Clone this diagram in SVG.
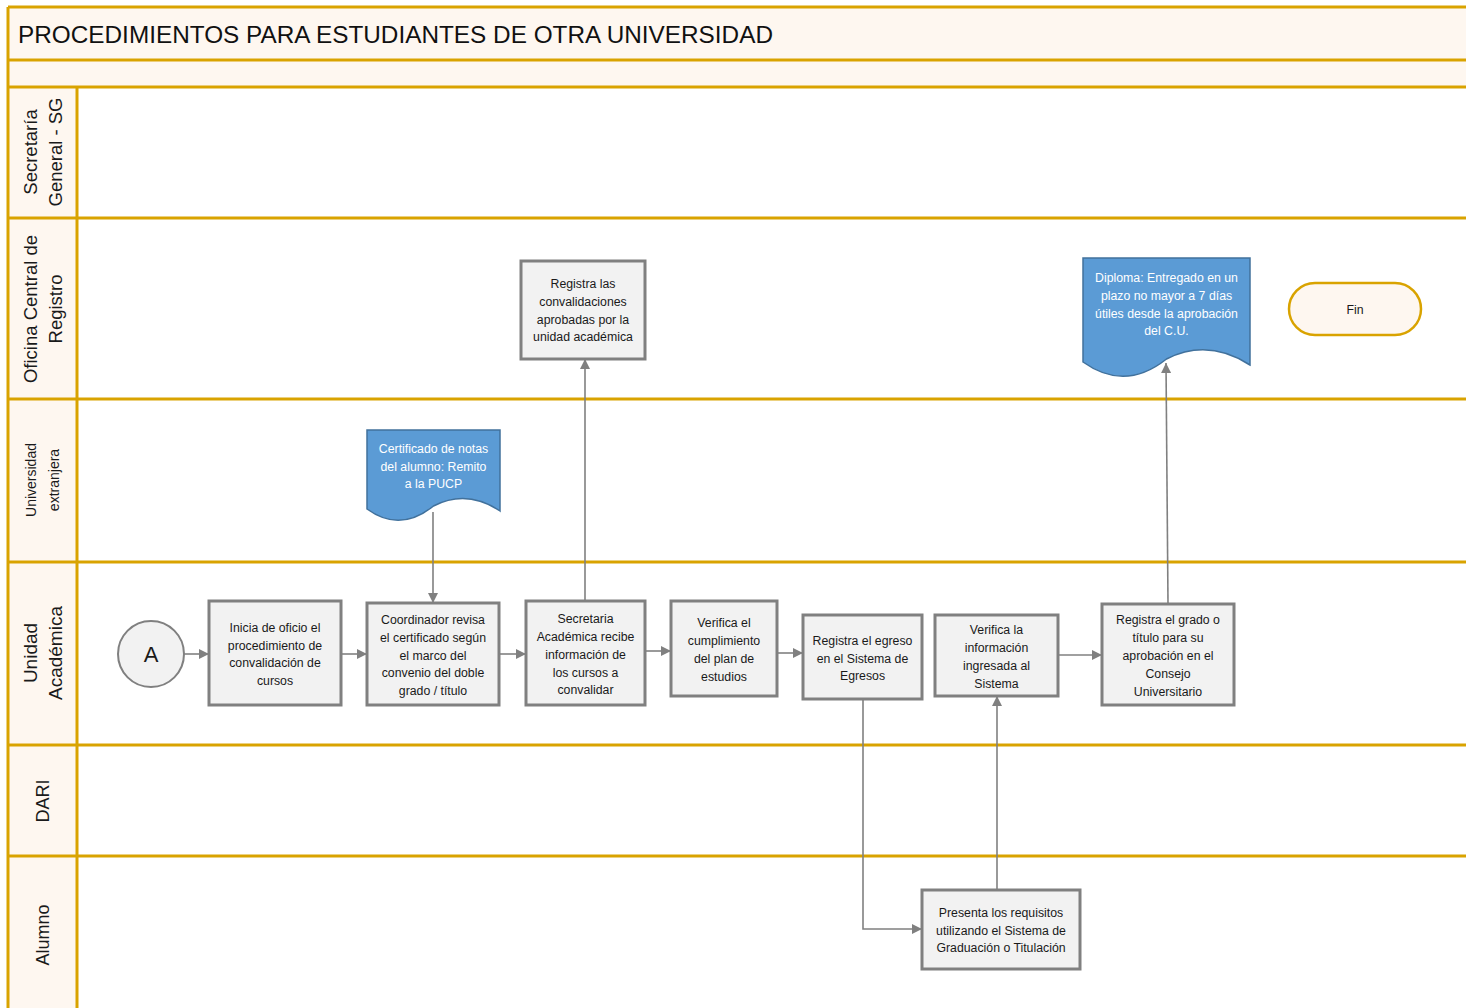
<svg xmlns="http://www.w3.org/2000/svg" width="1466" height="1008" viewBox="0 0 1466 1008">
  <style>
    .lane { fill: #ffffff; }
    .band { fill: #fef7f0; }
    .grid { stroke: #d9a300; stroke-width: 3; fill: none; }
    .lbl { font-family: "Liberation Sans", Arial, sans-serif; fill: #1a1a1a; text-anchor: middle; }
    .box { fill: #f2f2f2; stroke: #808080; stroke-width: 3; }
    .doc { fill: #5b9bd5; stroke: #41719c; stroke-width: 1.5; }
    .txt { font-family: "Liberation Sans", Arial, sans-serif; font-size: 12.3px; fill: #1a1a1a; text-anchor: middle; }
    .wtxt { font-family: "Liberation Sans", Arial, sans-serif; font-size: 12.3px; fill: #ffffff; text-anchor: middle; }
    .edge { stroke: #808080; stroke-width: 1.6; fill: none; marker-end: url(#arr); }
  </style>
  <defs>
    <marker id="arr" viewBox="0 0 10 10" refX="10" refY="5" markerWidth="11" markerHeight="10" markerUnits="userSpaceOnUse" orient="auto">
      <path d="M0,0 L10,5 L0,10 z" fill="#808080"/>
    </marker>
  </defs>

  <!-- background -->
  <rect x="0" y="0" width="1466" height="1008" fill="#ffffff"/>
  <rect class="band" x="8" y="7" width="1458" height="80"/>
  <rect class="band" x="8" y="87" width="69" height="921"/>

  <!-- pool frame and lane dividers -->
  <g id="pool">
    <path class="grid" d="M8,7 H1466 M8,60 H1466 M8,87 H1466 M8,218 H1466 M8,399 H1466 M8,562 H1466 M8,745 H1466 M8,856 H1466"/>
    <path class="grid" d="M8,7 V1008 M77,87 V1008"/>
    <text x="18" y="43" font-family="Liberation Sans, Arial, sans-serif" font-size="23" fill="#111" textLength="755" lengthAdjust="spacingAndGlyphs">PROCEDIMIENTOS PARA ESTUDIANTES DE OTRA UNIVERSIDAD</text>
  </g>

  <!-- lane labels -->
  <g id="lane-sg">
    <text class="lbl" font-size="18.5" transform="translate(37,152) rotate(-90)">Secretaría</text>
    <text class="lbl" font-size="18.5" transform="translate(62,152) rotate(-90)">General - SG</text>
  </g>
  <g id="lane-ocr">
    <text class="lbl" font-size="18.5" transform="translate(37,309) rotate(-90)">Oficina Central de</text>
    <text class="lbl" font-size="18.5" transform="translate(62,309) rotate(-90)">Registro</text>
  </g>
  <g id="lane-ue">
    <text class="lbl" font-size="14" transform="translate(36,480) rotate(-90)">Universidad</text>
    <text class="lbl" font-size="14" transform="translate(59,480) rotate(-90)">extranjera</text>
  </g>
  <g id="lane-ua">
    <text class="lbl" font-size="19" transform="translate(37,653) rotate(-90)">Unidad</text>
    <text class="lbl" font-size="19" transform="translate(62,653) rotate(-90)">Académica</text>
  </g>
  <g id="lane-dari">
    <text class="lbl" font-size="18" transform="translate(49,801) rotate(-90)">DARI</text>
  </g>
  <g id="lane-alumno">
    <text class="lbl" font-size="18" transform="translate(49,935) rotate(-90)">Alumno</text>
  </g>

  <!-- connectors -->
  <g id="connectors">
    <path class="edge" d="M184,654 H209"/>
    <path class="edge" d="M341,654 H367"/>
    <path class="edge" d="M499,654 H526"/>
    <path class="edge" d="M645,651 H671"/>
    <path class="edge" d="M777,653 H803"/>
    <path class="edge" d="M1058,655 H1102"/>
    <path class="edge" d="M433,512 V603"/>
    <path class="edge" d="M585,601 V359"/>
    <path class="edge" d="M863,699 V929 H922"/>
    <path class="edge" d="M997,890 V696"/>
    <path class="edge" d="M1168,604 L1166,363"/>
  </g>

  <!-- start connector -->
  <g id="n-a">
    <circle cx="151" cy="654" r="33" fill="#f2f2f2" stroke="#808080" stroke-width="2"/>
    <text x="151" y="662" font-family="Liberation Sans, Arial, sans-serif" font-size="22" fill="#1a1a1a" text-anchor="middle">A</text>
  </g>

  <g id="n-inicia">
    <rect class="box" x="209" y="601" width="132" height="104"/>
    <text class="txt"><tspan x="275" y="632">Inicia de oficio el</tspan><tspan x="275" y="650">procedimiento de</tspan><tspan x="275" y="667">convalidación de</tspan><tspan x="275" y="685">cursos</tspan></text>
  </g>

  <g id="n-coordinador">
    <rect class="box" x="367" y="603" width="132" height="102"/>
    <text class="txt"><tspan x="433" y="624">Coordinador revisa</tspan><tspan x="433" y="642">el certificado según</tspan><tspan x="433" y="660">el marco del</tspan><tspan x="433" y="677">convenio del doble</tspan><tspan x="433" y="695">grado / título</tspan></text>
  </g>

  <g id="n-secretaria">
    <rect class="box" x="526" y="601" width="119" height="104"/>
    <text class="txt"><tspan x="585.5" y="623">Secretaria</tspan><tspan x="585.5" y="641">Académica recibe</tspan><tspan x="585.5" y="659">información de</tspan><tspan x="585.5" y="677">los cursos a</tspan><tspan x="585.5" y="694">convalidar</tspan></text>
  </g>

  <g id="n-verifica-plan">
    <rect class="box" x="671" y="601" width="106" height="95"/>
    <text class="txt"><tspan x="724" y="627">Verifica el</tspan><tspan x="724" y="645">cumplimiento</tspan><tspan x="724" y="663">del plan de</tspan><tspan x="724" y="681">estudios</tspan></text>
  </g>

  <g id="n-registra-egreso">
    <rect class="box" x="803" y="615" width="119" height="84"/>
    <text class="txt"><tspan x="862.5" y="645">Registra el egreso</tspan><tspan x="862.5" y="663">en el Sistema de</tspan><tspan x="862.5" y="680">Egresos</tspan></text>
  </g>

  <g id="n-verifica-info">
    <rect class="box" x="935" y="615" width="123" height="81"/>
    <text class="txt"><tspan x="996.5" y="634">Verifica la</tspan><tspan x="996.5" y="652">información</tspan><tspan x="996.5" y="670">ingresada al</tspan><tspan x="996.5" y="688">Sistema</tspan></text>
  </g>

  <g id="n-registra-grado">
    <rect class="box" x="1102" y="604" width="132" height="101"/>
    <text class="txt"><tspan x="1168" y="624">Registra el grado o</tspan><tspan x="1168" y="642">título para su</tspan><tspan x="1168" y="660">aprobación en el</tspan><tspan x="1168" y="678">Consejo</tspan><tspan x="1168" y="696">Universitario</tspan></text>
  </g>

  <g id="n-certificado">
    <path class="doc" d="M367,430 H500 V511 Q467,489 433.5,506 Q400,533 367,509 Z"/>
    <text class="wtxt"><tspan x="433.5" y="453">Certificado de notas</tspan><tspan x="433.5" y="471">del alumno: Remito</tspan><tspan x="433.5" y="488">a la PUCP</tspan></text>
  </g>

  <g id="n-registra-conv">
    <rect class="box" x="521" y="261" width="124" height="98"/>
    <text class="txt"><tspan x="583" y="288">Registra las</tspan><tspan x="583" y="306">convalidaciones</tspan><tspan x="583" y="324">aprobadas por la</tspan><tspan x="583" y="341">unidad académica</tspan></text>
  </g>

  <g id="n-diploma">
    <path class="doc" d="M1083,258 H1250 V365 Q1208,338 1166.5,359 Q1125,392 1083,362 Z"/>
    <text class="wtxt"><tspan x="1166.5" y="282">Diploma: Entregado en un</tspan><tspan x="1166.5" y="300">plazo no mayor a 7 días</tspan><tspan x="1166.5" y="318">útiles desde la aprobación</tspan><tspan x="1166.5" y="335">del C.U.</tspan></text>
  </g>

  <g id="n-fin">
    <rect x="1289" y="283" width="132" height="52" rx="26" ry="26" fill="#fef7f0" stroke="#d9a300" stroke-width="2.5"/>
    <text class="txt" x="1355" y="314">Fin</text>
  </g>

  <g id="n-presenta">
    <rect class="box" x="922" y="890" width="158" height="79"/>
    <text class="txt"><tspan x="1001" y="917">Presenta los requisitos</tspan><tspan x="1001" y="935">utilizando el Sistema de</tspan><tspan x="1001" y="952">Graduación o Titulación</tspan></text>
  </g>
</svg>
